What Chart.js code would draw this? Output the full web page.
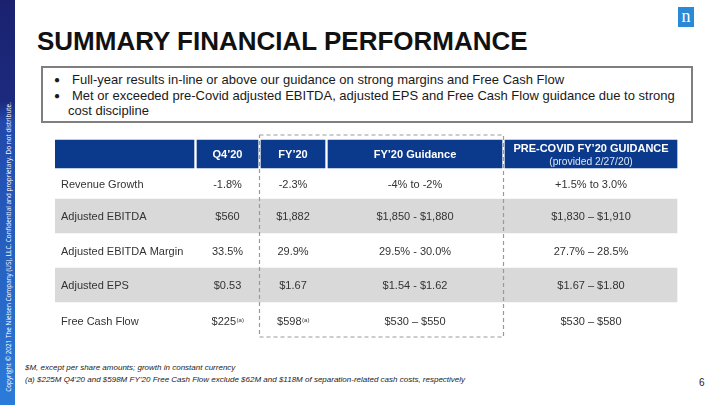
<!DOCTYPE html>
<html><head><meta charset="utf-8">
<script src="https://cdn.jsdelivr.net/npm/chart.js@4.4.1/dist/chart.umd.min.js"></script>
<style>
html,body{margin:0;padding:0;background:#fff;}
body{width:720px;height:405px;position:relative;overflow:hidden;font-family:"Liberation Sans",Arial,sans-serif;color:#222;}
#side{position:absolute;left:0;top:0;width:15px;height:405px;background:linear-gradient(to bottom,#1a2270 0%,#1c2a7e 25%,#2148aa 30%,#2b7bda 100%);}
#side span{position:absolute;left:7.5px;top:247px;transform:translate(-50%,-50%) rotate(-90deg);white-space:nowrap;color:#fff;font:6.4px "Open Sans",sans-serif;}
#logo{position:absolute;left:678px;top:7px;width:16px;height:20px;background:#2a8ad6;color:#fff;font:18px "Liberation Serif",serif;text-align:center;line-height:19px;}
#title{position:absolute;left:37px;top:28px;font-weight:bold;font-size:26px;line-height:26px;color:#111;white-space:nowrap;}
#box{position:absolute;left:41px;top:66px;width:652px;height:57px;box-sizing:border-box;border:2px solid #7f7f7f;}
.bl{position:absolute;font-size:13px;line-height:15px;white-space:nowrap;color:#1a1a1a;}
.dot{position:absolute;font-size:10px;line-height:15px;color:#1a1a1a;}
.foot{position:absolute;left:25px;font-size:8px;font-style:italic;line-height:10px;white-space:nowrap;color:#222;}
#page{position:absolute;left:699px;top:377px;font-size:10px;line-height:12px;color:#222;}
#tbl{position:absolute;left:55px;top:130px;width:625px;height:212px;}
</style></head>
<body>
<div id="side"><span>Copyright © 2021 The Nielsen Company (US), LLC. Confidential and proprietary. Do not distribute.</span></div>
<div id="logo">n</div>
<div id="title">SUMMARY FINANCIAL PERFORMANCE</div>
<div id="box"></div>
<div class="dot" style="left:54px;top:72px">●</div>
<div class="bl" style="left:72px;top:72px">Full-year results in-line or above our guidance on strong margins and Free Cash Flow</div>
<div class="dot" style="left:54px;top:88px">●</div>
<div class="bl" style="left:72px;top:88px">Met or exceeded pre-Covid adjusted EBITDA, adjusted EPS and Free Cash Flow guidance due to strong</div>
<div class="bl" style="left:68px;top:103px">cost discipline</div>
<div id="tbl"><canvas id="c"></canvas></div>
<div class="foot" style="top:363px">$M, except per share amounts; growth in constant currency</div>
<div class="foot" style="top:375px">(a) $225M Q4’20 and $598M FY’20 Free Cash Flow exclude $62M and $118M of separation-related cash costs, respectively</div>
<div id="page">6</div>
<script>
// ---- data ----
const metrics = ['Revenue Growth', 'Adjusted EBITDA', 'Adjusted EBITDA Margin', 'Adjusted EPS', 'Free Cash Flow'];
const columnHeaders = ['', 'Q4’20', 'FY’20', 'FY’20 Guidance', 'PRE-COVID FY’20 GUIDANCE'];
const headerSubtitles = ['', '', '', '', '(provided 2/27/20)'];
const q4_20 = ['-1.8%', '$560', '33.5%', '$0.53', '$225'];
const fy20 = ['-2.3%', '$1,882', '29.9%', '$1.67', '$598'];
const fy20Guidance = ['-4% to -2%', '$1,850 - $1,880', '29.5% - 30.0%', '$1.54 - $1.62', '$530 – $550'];
const preCovidGuidance = ['+1.5% to 3.0%', '$1,830 – $1,910', '27.7% – 28.5%', '$1.67 – $1.80', '$530 – $580'];
const q4_20Notes = ['', '', '', '', '(a)'];
const fy20Notes = ['', '', '', '', '(a)'];
const shadedRows = [false, true, false, true, false];

// ---- layout / style ----
const colWidths = [139, 61, 64, 174, 172];
const colGap = 3;
const headerTop = 10, headerHeight = 28;
const rowHeights = [31, 34, 35, 34, 38];
const boxCols = [2, 3];          // dashed box around FY'20 columns
const boxTop = 5, boxBottomInset = 3;
const navy = '#0b3a8c', shade = '#d9d9d9', textColor = '#333333';
const bodyFont = '11px "Liberation Sans", Arial, sans-serif';
const W = 625, H = 212;

const colEdges = [];
{ let s = 0; colWidths.forEach(w => { colEdges.push([s, s + w]); s += w + colGap; }); }
const tableRight = colEdges[colEdges.length - 1][1];
const rowTops = [];
{ let t = headerTop + headerHeight; rowHeights.forEach(h => { rowTops.push(t); t += h; }); }
const tableBottom = rowTops[rowTops.length - 1] + rowHeights[rowHeights.length - 1];
const rowCenters = rowTops.map((t, i) => t + rowHeights[i] / 2);
const headerCenter = headerTop + headerHeight / 2;

const columns = [metrics, q4_20, fy20, fy20Guidance, preCovidGuidance];
const notes = [null, q4_20Notes, fy20Notes, null, null];

const datasets = [];
datasets.push({
  type: 'bar', indexAxis: 'y', grouped: false, order: 5,
  data: colEdges.map(e => ({ x: [e[0], e[1]], y: headerCenter })),
  backgroundColor: navy, borderWidth: 0, barThickness: headerHeight
});
shadedRows.forEach((s, i) => {
  if (!s) return;
  datasets.push({
    type: 'bar', indexAxis: 'y', grouped: false, order: 6,
    data: [{ x: [0, tableRight], y: rowCenters[i] }],
    backgroundColor: shade, borderWidth: 0, barThickness: rowHeights[i]
  });
});
const bx0 = colEdges[boxCols[0]][0] - colGap / 2;
const bx1 = colEdges[boxCols[1]][1] + colGap / 2;
const by1 = tableBottom - boxBottomInset;
datasets.push({
  type: 'line', order: 0,
  data: [{x: bx0, y: boxTop}, {x: bx1, y: boxTop}, {x: bx1, y: by1}, {x: bx0, y: by1}, {x: bx0, y: boxTop}],
  borderColor: '#9a9a9a', borderWidth: 1.2, borderDash: [4, 3], pointRadius: 0, fill: false, tension: 0
});

const textPlugin = {
  id: 'cellText',
  afterDatasetsDraw(chart) {
    const { ctx, scales: { x, y } } = chart;
    ctx.save();
    ctx.textBaseline = 'middle';
    // header
    columnHeaders.forEach((h, c) => {
      if (!h) return;
      const cx = x.getPixelForValue((colEdges[c][0] + colEdges[c][1]) / 2);
      ctx.fillStyle = '#ffffff';
      ctx.textAlign = 'center';
      if (headerSubtitles[c]) {
        ctx.font = 'bold 11px "Liberation Sans", Arial, sans-serif';
        ctx.fillText(h, cx, y.getPixelForValue(headerCenter - 5.5));
        ctx.fillStyle = '#dce5f4';
        ctx.font = '10.3px "Liberation Sans", Arial, sans-serif';
        ctx.fillText(headerSubtitles[c], cx, y.getPixelForValue(headerCenter + 8));
      } else {
        ctx.font = 'bold 11px "Liberation Sans", Arial, sans-serif';
        ctx.fillText(h, cx, y.getPixelForValue(headerCenter + 1));
      }
    });
    // body
    columns.forEach((vals, c) => {
      vals.forEach((v, r) => {
        const cy = y.getPixelForValue(rowCenters[r] + 1);
        ctx.fillStyle = textColor;
        ctx.font = bodyFont;
        if (c === 0) {
          ctx.textAlign = 'left';
          ctx.fillText(v, x.getPixelForValue(colEdges[c][0] + 6), cy);
          return;
        }
        const note = notes[c] ? notes[c][r] : '';
        const cx = x.getPixelForValue((colEdges[c][0] + colEdges[c][1]) / 2);
        if (note) {
          const w1 = ctx.measureText(v).width;
          ctx.font = '6px "Liberation Sans", Arial, sans-serif';
          const w2 = ctx.measureText(note).width;
          const start = cx - (w1 + w2) / 2;
          ctx.textAlign = 'left';
          ctx.font = bodyFont;
          ctx.fillText(v, start, cy);
          ctx.font = '6px "Liberation Sans", Arial, sans-serif';
          ctx.fillText(note, start + w1 + 0.5, cy - 1.5);
        } else {
          ctx.textAlign = 'center';
          ctx.fillText(v, cx, cy);
        }
      });
    });
    ctx.restore();
  }
};

new Chart(document.getElementById('c'), {
  data: { datasets },
  options: {
    responsive: true, maintainAspectRatio: false, animation: false, events: [],
    devicePixelRatio: 1,
    layout: { padding: 0 },
    plugins: { legend: { display: false }, tooltip: { enabled: false } },
    scales: {
      x: { type: 'linear', min: 0, max: W, display: false, offset: false, grace: 0 },
      y: { type: 'linear', min: 0, max: H, reverse: true, display: false, offset: false, grace: 0 }
    }
  },
  plugins: [textPlugin]
});
</script>
</body></html>
